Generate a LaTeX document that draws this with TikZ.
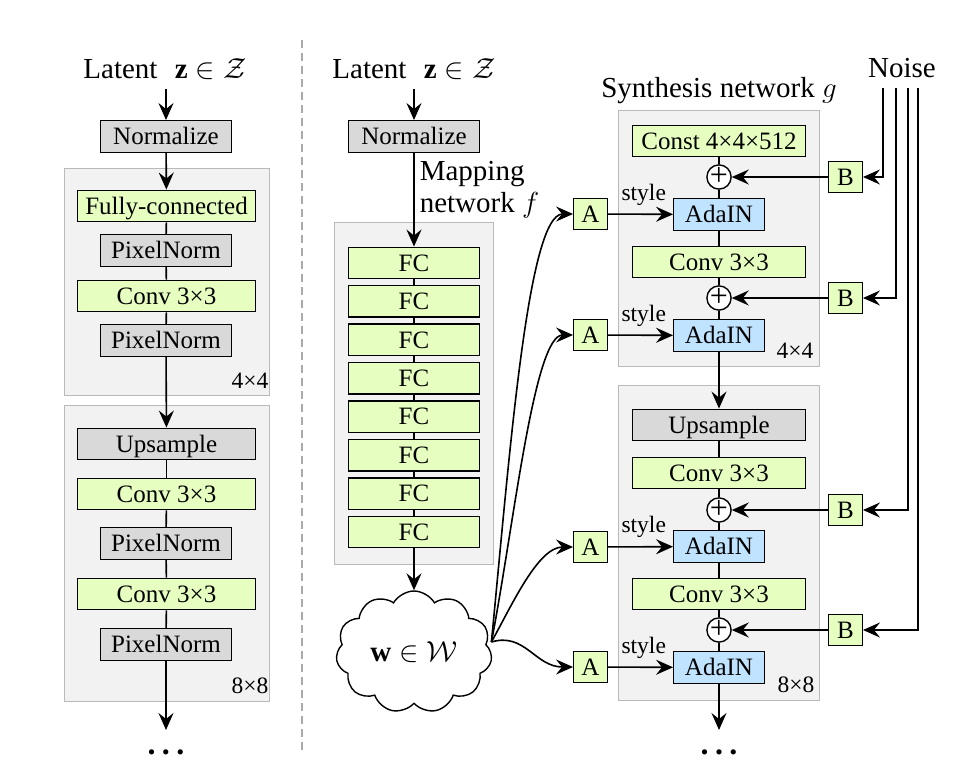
\RequirePackage{fix-cm}
\documentclass[tikz,border=0pt]{standalone}
\usepackage{fontspec}
\setmainfont{Liberation Serif}
\usetikzlibrary{arrows.meta,shapes.symbols,calc}
\definecolor{gfill}{RGB}{230,255,192}
\definecolor{bfill}{RGB}{192,228,255}
\definecolor{kfill}{RGB}{217,217,217}
\definecolor{pfill}{RGB}{242,242,242}
\definecolor{pdraw}{RGB}{185,185,185}
\definecolor{sepc}{RGB}{170,170,170}
\begin{document}
\begin{tikzpicture}[x=1pt,y=-1pt,
  >={Stealth[length=17pt,width=15pt,inset=6pt]},
  line width=1.6pt,
  base/.style={inner sep=0pt, font=\fontsize{25}{25}\selectfont, text height=22pt, text depth=5.5pt},
  blk/.style={base, draw=black, line width=1.4pt, minimum height=31.5pt},
  gb/.style={blk, fill=gfill},
  kb/.style={blk, fill=kfill},
  bb/.style={blk, fill=bfill},
  sq/.style={gb, minimum width=33.5pt},
  panel/.style={draw=pdraw, fill=pfill, line width=1.4pt, inner sep=0pt},
  title/.style={inner sep=0pt, font=\fontsize{29}{29}\selectfont},
  small/.style={inner sep=0pt, font=\fontsize{23.5}{23.5}\selectfont},
  plus/.style={circle, draw=black, fill=white, line width=1.4pt, minimum size=21.5pt, inner sep=0pt, font=\fontsize{32}{32}\selectfont, text height=16.2pt, text depth=0pt},
  dots/.style={inner sep=0pt, font=\fontsize{32}{32}\selectfont\bfseries, text height=4.8pt, text depth=0pt},
  stylelbl/.style={small, anchor=south, yshift=8pt}
]
\useasboundingbox (0,0) rectangle (964,771);

% separator
\draw[draw=sepc, line width=1.4pt, dash pattern=on 8pt off 5pt] (302,40) -- (302,752);

% panels
\node[panel, minimum width=205pt, minimum height=227pt] (P4L) at (167,282) {};
\node[panel, minimum width=205pt, minimum height=296pt] (P8L) at (167,553.5) {};
\node[panel, minimum width=159pt, minimum height=342pt] (PM) at (414,393.5) {};
\node[panel, minimum width=201pt, minimum height=256pt] (PS4) at (719,238.5) {};
\node[panel, minimum width=201pt, minimum height=315pt] (PS8) at (719,543) {};

% ---------- left column ----------
\node[title, anchor=base] (latL) at (165,78) {Latent\hspace{0.6em}$\mathbf{z}\in\mathcal{Z}$};
\node[kb, minimum width=130.5pt] (normL) at (166,136.5) {Normalize};
\node[gb, minimum width=177.5pt] (fcL) at (166.5,206) {Fully-connected};
\node[kb, minimum width=130.5pt] (pn1) at (166,250.5) {PixelNorm};
\node[gb, minimum width=177.5pt] (cv1) at (166.5,296) {Conv 3×3};
\node[kb, minimum width=130.5pt] (pn2) at (166,340.5) {PixelNorm};
\node[small] (r4L) at (250,381) {4×4};
\node[kb, minimum width=177.5pt] (upL) at (166.5,444) {Upsample};
\node[gb, minimum width=177.5pt] (cv2) at (166.5,494) {Conv 3×3};
\node[kb, minimum width=130.5pt] (pn3) at (166,543.5) {PixelNorm};
\node[gb, minimum width=177.5pt] (cv3) at (166.5,594) {Conv 3×3};
\node[kb, minimum width=130.5pt] (pn4) at (166,644.5) {PixelNorm};
\node[small] (r8L) at (250,686) {8×8};
\coordinate (endL) at (166,730);
\node[dots] (dotsL) at (166,752) {.\hspace{6.5pt}.\hspace{6.5pt}.};

\draw[->, shorten <=9pt] (latL.south -| normL) -- (normL);
\draw[->] (normL) -- (fcL);
\draw (fcL) -- (pn1);
\draw (pn1) -- (cv1);
\draw (cv1) -- (pn2);
\draw[->] (pn2) -- (upL);
\draw (upL) -- (cv2);
\draw (cv2) -- (pn3);
\draw (pn3) -- (cv3);
\draw (cv3) -- (pn4);
\draw[->] (pn4) -- (endL);

% ---------- mapping network ----------
\node[title, anchor=base] (latM) at (414,78) {Latent\hspace{0.6em}$\mathbf{z}\in\mathcal{Z}$};
\node[kb, minimum width=130.5pt] (normM) at (414,136.5) {Normalize};
\node[title, anchor=base west] (map1) at (419,180) {Mapping};
\node[title, anchor=base west] (map2) at (419,212) {network $f$};
\foreach \i in {1,...,8}
  \node[gb, minimum width=130.5pt] (fc\i) at (414,{263+38.43*(\i-1)}) {FC};
\foreach \i [evaluate=\i as \j using int(\i+1)] in {1,...,7}
  \draw (fc\i) -- (fc\j);
\node[cloud, draw=black, fill=white, line width=1.4pt, cloud puffs=11, cloud puff arc=120,
      cloud ignores aspect, minimum width=156pt, minimum height=122pt, inner sep=0pt,
      font=\fontsize{29}{29}\selectfont] (w) at (414,652) {$\mathbf{w}\in\mathcal{W}$};
\draw[->, shorten <=9pt] (latM.south -| normM) -- (normM);
\draw[->] (normM) -- (fc1);
\draw[->] (fc8) -- (w);

% ---------- synthesis network ----------
\node[title, anchor=base] (synt) at (719,97) {Synthesis network $g$};
\node[title, anchor=base] (noise) at (902,77) {Noise};

\node[gb, minimum width=172.5pt] (const) at (719,141) {Const 4×4×512};
\node[plus] (p1) at (719,177) {+};
\node[bb, minimum width=90.5pt] (ada1) at (719,214.5) {AdaIN};
\node[gb, minimum width=172.5pt] (cv4) at (719,262) {Conv 3×3};
\node[plus] (p2) at (719,298) {+};
\node[bb, minimum width=90.5pt] (ada2) at (719,335.5) {AdaIN};
\node[small] (r4R) at (795,351) {4×4};

\node[kb, minimum width=172.5pt] (ups) at (719,425) {Upsample};
\node[gb, minimum width=172.5pt] (cv5) at (719,473) {Conv 3×3};
\node[plus] (p3) at (719,510) {+};
\node[bb, minimum width=90.5pt] (ada3) at (719,546.5) {AdaIN};
\node[gb, minimum width=172.5pt] (cv6) at (719,594) {Conv 3×3};
\node[plus] (p4) at (719,630) {+};
\node[bb, minimum width=90.5pt] (ada4) at (719,667.5) {AdaIN};
\node[small] (r8R) at (796,685) {8×8};
\coordinate (endR) at (719,730);
\node[dots] (dotsR) at (719,752) {.\hspace{6.5pt}.\hspace{6.5pt}.};

\draw (const) -- (p1);
\draw (p1) -- (ada1);
\draw (ada1) -- (cv4);
\draw (cv4) -- (p2);
\draw (p2) -- (ada2);
\draw[->] (ada2) -- (ups);
\draw (ups) -- (cv5);
\draw (cv5) -- (p3);
\draw (p3) -- (ada3);
\draw (ada3) -- (cv6);
\draw (cv6) -- (p4);
\draw (p4) -- (ada4);
\draw[->] (ada4) -- (endR);

% A boxes
\node[sq] (A1) at (590.5,214) {A};
\node[sq] (A2) at (590.5,335) {A};
\node[sq] (A3) at (590.5,547) {A};
\node[sq] (A4) at (590.5,667) {A};
\draw[->] (A1) -- node[stylelbl, pos=0.55] {style} (ada1);
\draw[->] (A2) -- node[stylelbl, pos=0.55] {style} (ada2);
\draw[->] (A3) -- node[stylelbl, pos=0.55] {style} (ada3);
\draw[->] (A4) -- node[stylelbl, pos=0.55] {style} (ada4);

% B boxes
\node[sq] (B1) at (845.5,177) {B};
\node[sq] (B2) at (845.5,298) {B};
\node[sq] (B3) at (845.5,510) {B};
\node[sq] (B4) at (845.5,630) {B};
\draw[->] (B1) -- (p1);
\draw[->] (B2) -- (p2);
\draw[->] (B3) -- (p3);
\draw[->] (B4) -- (p4);

% noise lines
\coordinate (n1) at (883,88);
\coordinate (n2) at (896,88);
\coordinate (n3) at (908,88);
\coordinate (n4) at (918,88);
\draw[->] (n1) |- (B1);
\draw[->] (n2) |- (B2);
\draw[->] (n3) |- (B3);
\draw[->] (n4) |- (B4);

% style curves from w
\coordinate (ws) at ([yshift=10pt]w.east);
\draw[->] (ws) .. controls (510,450) and (528,214) .. (A1.west);
\draw[->] (ws) .. controls (514,525) and (534,335) .. (A2.west);
\draw[->] (ws) .. controls (512,605) and (538,547) .. (A3.west);
\draw[->] (ws) .. controls (525,632) and (535,667) .. (A4.west);
\end{tikzpicture}
\end{document}
